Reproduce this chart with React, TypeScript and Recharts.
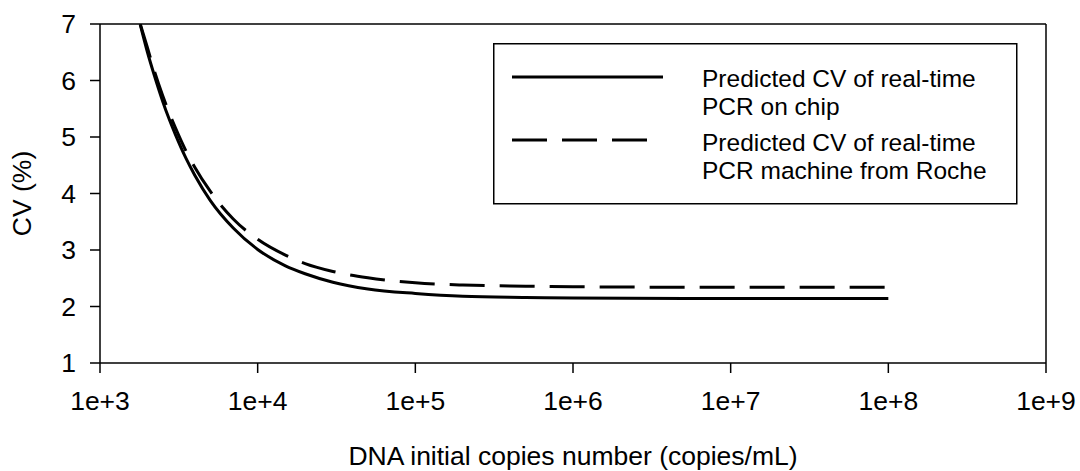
import React from 'react';
import {LineChart, Line, XAxis, YAxis, ReferenceLine} from 'recharts';

// values
const copies = [1800, 2000, 2200, 2500, 2700, 3000, 3500, 4000, 5000, 7000, 10000, 15000, 20000, 30000, 50000, 100000, 200000, 500000, 1000000, 10000000, 100000000];
const cvChip = [6.99, 6.5, 6.11, 5.63, 5.37, 5.05, 4.63, 4.32, 3.88, 3.39, 3.01, 2.72, 2.58, 2.43, 2.31, 2.23, 2.18, 2.16, 2.15, 2.14, 2.14];
const cvRoche = [7.0, 6.58, 6.19, 5.73, 5.48, 5.17, 4.76, 4.46, 4.04, 3.55, 3.19, 2.91, 2.76, 2.62, 2.51, 2.42, 2.38, 2.36, 2.35, 2.34, 2.34];

const xTicks = [1e3, 1e4, 1e5, 1e6, 1e7, 1e8, 1e9];
const xTickLabels = ['1e+3', '1e+4', '1e+5', '1e+6', '1e+7', '1e+8', '1e+9'];
const yTicks = [1, 2, 3, 4, 5, 6, 7];

const legendChip = ['Predicted CV of real-time', 'PCR on chip'];
const legendRoche = ['Predicted CV of real-time', 'PCR machine from Roche'];

const data = copies.map((c, i) => ({copies: c, chip: cvChip[i], roche: cvRoche[i]}));

const FONT = "'Liberation Sans', Arial, sans-serif";
const FS = 26.5;
const LEG_FS = 24.5;
const tickStyle = {fontSize: FS, fill: '#000', fontFamily: FONT};
const axisLine = {stroke: '#000', strokeWidth: 1.5};

const xLabel = (props: any) => {
    const vb = props.viewBox || {x: 100, y: 363, width: 946, height: 102};
    return (
        <text x={vb.x + vb.width / 2} y={465} textAnchor="middle" fontSize={FS} fill="#000" fontFamily={FONT}>
            DNA initial copies number (copies/mL)
        </text>
    );
};

const yLabel = (props: any) => {
    const vb = props.viewBox || {x: 0, y: 24, width: 100, height: 339};
    const cx = vb.x + 22;
    const cy = vb.y + vb.height / 2;
    return (
        <text x={cx} y={cy} transform={`rotate(-90, ${cx}, ${cy})`} textAnchor="middle" dominantBaseline="central"
              fontSize={FS} fill="#000" fontFamily={FONT}>
            CV (%)
        </text>
    );
};

// two-line legend entry
const Entry = ({lines, y}: { lines: string[], y: number }) => (
    <g fontSize={LEG_FS} fill="#000" fontFamily={FONT}>
        <text x={209} y={y}>{lines[0]}</text>
        <text x={209} y={y + 28.5}>{lines[1]}</text>
    </g>
);

const ChartLegend = () => (
    <svg width={526} height={164} style={{position: 'absolute', left: 493, top: 43}}>
        <rect x={0.75} y={0.75} width={523} height={160} fill="#fff" stroke="#000" strokeWidth={1.5}/>
        <line x1={19} x2={170} y1={34} y2={34} stroke="#000" strokeWidth={3}/>
        <line x1={19} x2={154} y1={97} y2={97} stroke="#000" strokeWidth={3} strokeDasharray="35 15"/>
        <Entry lines={legendChip} y={43.5}/>
        <Entry lines={legendRoche} y={107.5}/>
    </svg>
);

const App = () => {
    return (
        <div style={{position: 'absolute', left: 0, top: 0, width: 1080, height: 471, background: '#fff', fontFamily: FONT}}>
            <LineChart width={1080} height={471} data={data} margin={{top: 24, right: 34, bottom: 6, left: 0}}>
                <XAxis dataKey="copies" type="number" scale="log" domain={[1e3, 1e9]} ticks={xTicks}
                       tickFormatter={(v: number) => xTickLabels[xTicks.indexOf(v)] ?? String(v)}
                       height={102} tickSize={10} tickMargin={18} tick={tickStyle}
                       axisLine={axisLine} tickLine={axisLine} allowDataOverflow label={xLabel}/>
                <YAxis type="number" domain={[1, 7]} ticks={yTicks} width={100} tickSize={10} tickMargin={14}
                       tick={tickStyle} axisLine={axisLine} tickLine={axisLine} allowDataOverflow label={yLabel}/>
                <ReferenceLine y={7} stroke="#000" strokeWidth={1.5}/>
                <ReferenceLine x={1e9} stroke="#000" strokeWidth={1.5}/>
                <Line type="monotone" dataKey="chip" stroke="#000" strokeWidth={3} dot={false}
                      isAnimationActive={false}/>
                <Line type="monotone" dataKey="roche" stroke="#000" strokeWidth={3} dot={false}
                      strokeDasharray="35 15" isAnimationActive={false}/>
            </LineChart>
            <ChartLegend/>
        </div>
    );
};

export default App;
